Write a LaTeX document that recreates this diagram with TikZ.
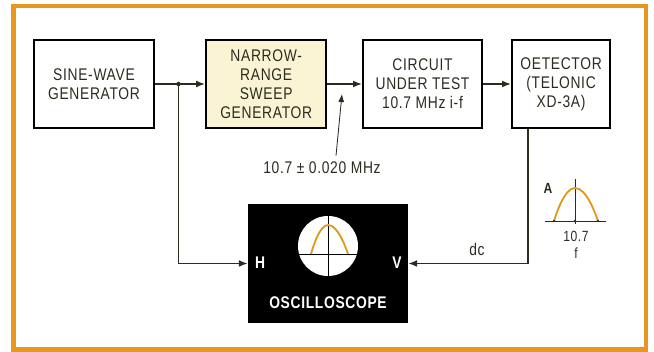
\documentclass[tikz,border=0pt]{standalone}
\usepackage{fontspec}
\setmainfont{Liberation Sans}[FakeStretch=0.82,LetterSpace=4]
\usepackage{xcolor}
\usetikzlibrary{positioning,arrows.meta,calc}
\definecolor{framecol}{HTML}{E9951F}
\definecolor{inkcol}{HTML}{2B2B20}
\definecolor{sweepfill}{HTML}{FBF4D4}
\definecolor{tracecol}{HTML}{DF9A1C}
\tikzset{
block/.style={
draw,
line width=1.8pt,
minimum width=3cm,
minimum height=2.2cm,
align=center,
text=inkcol,
font=\fontsize{12}{13.5}\selectfont
},
scopelbl/.style={
text=white,
font=\fontsize{12}{13.5}\selectfont\bfseries
},
lbl/.style={
text=inkcol,
font=\fontsize{12}{13.5}\selectfont
},
arrow/.style={
-{Latex[length=2.2mm,width=1.7mm]},
line width=0.8pt,
draw=inkcol
},
trace/.style={
draw=tracecol,
line width=1.3pt
}
}
\begin{document}
\begin{tikzpicture}[x=0.025cm,y=-0.025cm,node distance=1.2cm]
\useasboundingbox (0,0) rectangle (654,352);
\draw[framecol,line width=3.5pt] (13.5,6) rectangle (646,349.5);

% top row
\node[block](sine) at (94,84){SINE-WAVE\\GENERATOR};
\node[block,fill=sweepfill,right=1.24cm of sine](sweep){NARROW-\\RANGE\\SWEEP\\GENERATOR};
\node[block,minimum width=2.97cm,right=0.86cm of sweep](cut){CIRCUIT\\UNDER TEST\\10.7 MHz i-f};
\node[block,minimum width=2.45cm,right=0.69cm of cut](det){OETECTOR\\(TELONIC\\XD-3A)};

% oscilloscope
\node[fill=black,minimum width=4cm,minimum height=2.95cm](osc) at (328,263.5){};
\node[circle,fill=white,minimum size=1.5cm,inner sep=0pt](screen) at (328,246){};
\draw[line width=0.6pt] (screen.north) -- (screen.south);
\draw[line width=0.6pt] ($(screen.center)+(-29,8)$) -- ($(screen.center)+(29,8)$);
\draw[trace] (311,254) parabola bend (328,225) (348,254);
\node[scopelbl](hlbl) at (260,263){H};
\node[scopelbl](vlbl) at (397,263){V};
\node[scopelbl](osclbl) at (328,303){OSCILLOSCOPE};

\foreach \x/\y in {sine/sweep,sweep/cut,cut/det}
\draw[arrow](\x)--(\y);

% sweep to H, detector to V
\coordinate (split) at ([xshift=0.58cm]sine.east);
\fill[inkcol] (split) circle (1.6pt);
\draw[arrow] (split) |- (osc.west);
\coordinate (dcturn) at (528,262);
\draw[arrow] (dcturn |- det.south) |- (osc.east);
\node[lbl](dclbl) at (477,249){dc};

% frequency label
\node[lbl](freq) at (322,168){10.7 ± 0.020 MHz};
\coordinate (probe) at (342,94);
\draw[-{Latex[length=2mm,width=1.5mm]},line width=0.6pt,inkcol] ([xshift=0.35cm,yshift=1pt]freq.north) -- (probe);

% response curve
\draw[inkcol,line width=0.6pt] (545,221) -- (606,221);
\draw[inkcol,line width=0.6pt] (575,179) -- (575,224);
\draw[trace] (554,221) parabola bend (575,188) (598,221);
\foreach \t in {554,575,598}
\fill[inkcol] (\t,221) circle (0.9pt);
\node[lbl,font=\fontsize{10.5}{12}\selectfont\bfseries](amp) at (548,188){A};
\node[lbl,font=\fontsize{10.5}{12}\selectfont](fc) at (576,236){10.7};
\node[lbl,font=\fontsize{10.5}{12}\selectfont](faxis) at (576,253){f};
\end{tikzpicture}
\end{document}
